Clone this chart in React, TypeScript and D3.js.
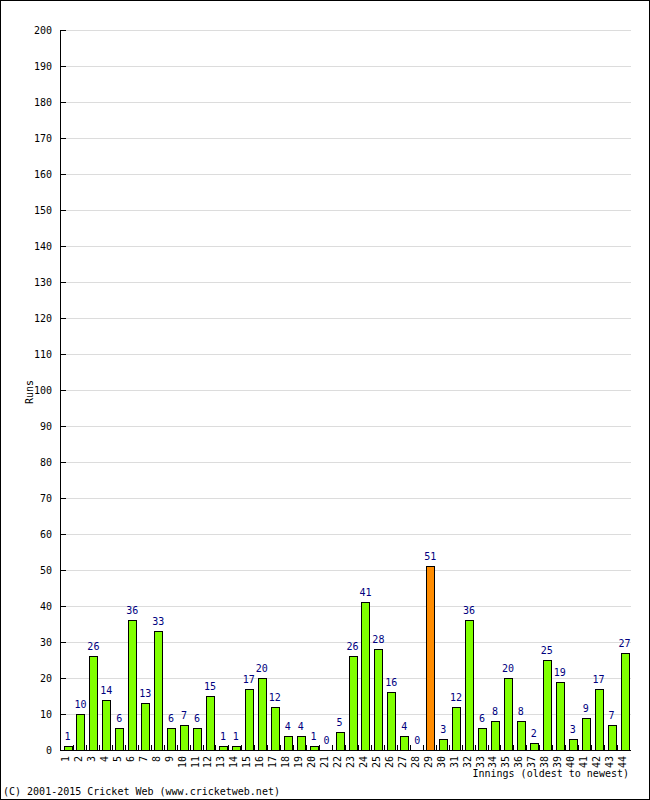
import React from "react";
import * as d3 from "d3";

const innings: string[] = Array.from({ length: 44 }, (_, i) => String(i + 1));
const runs: number[] = [1, 10, 26, 14, 6, 36, 13, 33, 6, 7, 6, 15, 1, 1, 17, 20, 12, 4, 4, 1, 0, 5, 26, 41, 28, 16, 4, 0, 51, 3, 12, 36, 6, 8, 20, 8, 2, 25, 19, 3, 9, 17, 7, 27];
const yTicks: number[] = d3.range(0, 201, 10);

const W = 650;
const H = 800;
const left = 60;
const right = 630;
const top = 30;
const bottom = 750;
const FONT = "'DejaVu Sans Mono', monospace";

export default function App() {
  const x = d3.scaleBand<string>().domain(innings).range([left, right]).padding(0);
  const y = d3.scaleLinear().domain([0, 200]).range([bottom, top]);
  const bw = x.bandwidth();
  const maxVal = d3.max(runs) as number;

  return (
    <svg width={W} height={H} style={{ position: "absolute", left: 0, top: 0, background: "#fff" }}>
      <rect x={0.5} y={0.5} width={W - 1} height={H - 1} fill="#fff" stroke="#000" />
      {/* grid */}
      {yTicks.map((t) => (
        <line key={"g" + t} x1={left} x2={right + 1} y1={Math.round(y(t)) + 0.5} y2={Math.round(y(t)) + 0.5} stroke="#dcdcdc" />
      ))}
      {/* y axis */}
      <line x1={left + 0.5} x2={left + 0.5} y1={top} y2={bottom + 1} stroke="#000" />
      {yTicks.map((t) => (
        <g key={"t" + t}>
          <line x1={left} x2={left + 6} y1={Math.round(y(t)) + 0.5} y2={Math.round(y(t)) + 0.5} stroke="#000" />
          <text x={52} y={Math.round(y(t)) + 4} textAnchor="end" fontFamily={FONT} fontSize={10} fill="#000">
            {t}
          </text>
        </g>
      ))}
      {/* bars */}
      {runs.map((v, i) => {
        const bx = (x(innings[i]) as number) + 3.5;
        const yt = y(v);
        return (
          <g key={"b" + i}>
            {v > 0 && (
              <rect
                x={Math.round(bx) + 0.5}
                y={Math.round(yt) + 0.5}
                width={8}
                height={Math.max(0, Math.round(bottom) - Math.round(yt))}
                fill={v === maxVal ? "#ff8c00" : "#80ff00"}
                stroke="#000"
              />
            )}
            <text
              x={(x(innings[i]) as number) + bw / 2 + 1}
              y={yt - 6}
              textAnchor="middle"
              fontFamily={FONT}
              fontSize={10}
              fill="#000080"
            >
              {v}
            </text>
          </g>
        );
      })}
      {/* x axis */}
      <line x1={left} x2={right + 1} y1={bottom + 0.5} y2={bottom + 0.5} stroke="#000" />
      {innings.map((c, i) => {
        const sx = Math.round((x(c) as number) + bw) + 0.5;
        return i < innings.length - 1 ? (
          <line key={"xt" + i} x1={sx} x2={sx} y1={bottom - 5} y2={bottom} stroke="#000" />
        ) : null;
      })}
      {innings.map((c) => {
        const cx = (x(c) as number) + bw / 2 + 1;
        return (
          <text
            key={"xl" + c}
            transform={`translate(${cx + 1.5},${bottom + 6}) rotate(-90)`}
            textAnchor="end"
            fontFamily={FONT}
            fontSize={10}
            fill="#000"
          >
            {c}
          </text>
        );
      })}
      <text x={629} y={777} textAnchor="end" fontFamily={FONT} fontSize={10} fill="#000">
        Innings (oldest to newest)
      </text>
      <text transform={`translate(33,392) rotate(-90)`} textAnchor="middle" fontFamily={FONT} fontSize={10} fill="#000">
        Runs
      </text>
      <text x={3} y={795} fontFamily={FONT} fontSize={10} fill="#000">
        (C) 2001-2015 Cricket Web (www.cricketweb.net)
      </text>
    </svg>
  );
}
